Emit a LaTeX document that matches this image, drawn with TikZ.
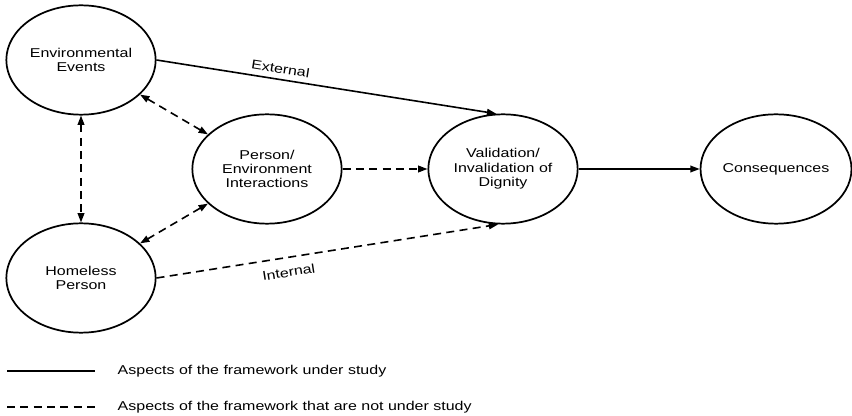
\documentclass[tikz,border=0pt]{standalone}
\usepackage{fontspec}
\setmainfont{Liberation Sans}[FakeStretch=1.25]
\usetikzlibrary{shapes.geometric,arrows.meta}

\tikzset{
  factor/.style={ellipse,draw,line width=1.3pt,minimum width=112pt,minimum height=82pt,
    inner sep=0pt,align=center},
  studied/.style={line width=1.2pt},
  unstudied/.style={line width=1.2pt,dash pattern=on 6pt off 4pt},
}

\begin{document}
\begin{tikzpicture}[x=0.75pt,y=-0.75pt,>={Triangle[length=7pt,width=5pt]},
    font=\fontsize{9.6}{10.8}\selectfont]
  \useasboundingbox (0,0) rectangle (852,416);

  \node[factor] at (81,60) (env) {Environmental\\Events};
  \node[factor] at (81,278) (home) {Homeless\\Person};
  \node[factor] at (267,169) (pe) {Person/\\Environment\\Interactions};
  \node[factor] at (503,169) (val) {Validation/\\Invalidation of\\Dignity};
  \node[factor] at (776,169) (cons) {Consequences};

  \draw[studied,->] (env.east) -- node[pos=0.36,above,sloped,inner sep=4pt]{External} (val.97);
  \draw[unstudied,->] (home.east) -- node[pos=0.38,below,sloped,inner sep=7pt]{Internal} (val.265);
  \draw[unstudied,<->] (env) -- (pe);
  \draw[unstudied,<->] (pe) -- (home);
  \draw[unstudied,<->] (env.south) -- (home.north);
  \draw[unstudied,->] (pe.east) -- (val.west);
  \draw[studied,->] (val.east) -- (cons.west);

  % legend
  \coordinate (s1) at (7,371);
  \coordinate (s2) at (95,371);
  \coordinate (d1) at (7,407);
  \coordinate (d2) at (95,407);
  \draw[studied] (s1) -- (s2);
  \draw[unstudied] (d1) -- (d2);
  \node[anchor=west] at (113,371) (ls) {Aspects of the framework under study};
  \node[anchor=west] at (113,407) (ld) {Aspects of the framework that are not under study};
\end{tikzpicture}
\end{document}
